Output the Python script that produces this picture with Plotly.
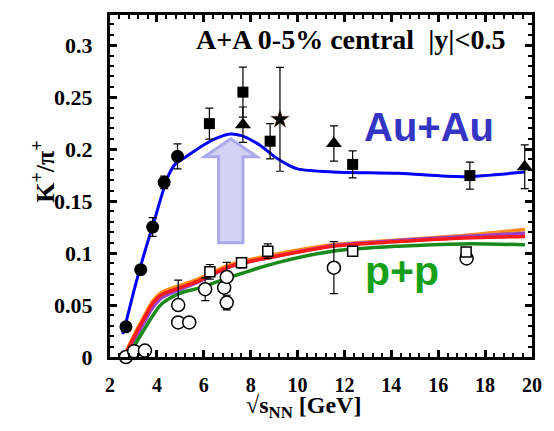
import plotly.graph_objects as go

# ---------------- data ----------------
# Au+Au model curve (blue)
auau_curve_x = [2.54, 2.7, 3.0, 3.3, 3.6, 3.9, 4.2, 4.5, 4.8, 5.2, 6.0, 6.6, 7.15, 7.6, 8.0, 8.5, 9.0, 9.5, 10.0, 11.5, 14.3, 17.1, 19.7]
auau_curve_y = [0.022, 0.035, 0.062, 0.087, 0.110, 0.132, 0.155, 0.175, 0.186, 0.192, 0.204, 0.211, 0.2145, 0.213, 0.209, 0.202, 0.193, 0.186, 0.181, 0.178, 0.1767, 0.1735, 0.178]

# p+p model curves
pp_x = [2.6, 3.0, 3.5, 3.8, 4.2, 5.0, 5.75, 7.15, 9.1, 11.5, 14.3, 17.1, 19.7]
pp_orange = [0.001, 0.020, 0.041, 0.053, 0.062, 0.069, 0.075, 0.089, 0.099, 0.108, 0.1126, 0.117, 0.1226]
pp_purple = [0.0, 0.015, 0.035, 0.047, 0.057, 0.065, 0.072, 0.087, 0.097, 0.107, 0.112, 0.116, 0.119]
pp_red = [0.0, 0.018, 0.039, 0.051, 0.060, 0.0667, 0.073, 0.0875, 0.097, 0.1066, 0.111, 0.1145, 0.116]
pp_green_x = [2.8, 3.0, 3.5, 3.8, 4.2, 5.0, 5.75, 7.15, 9.1, 11.5, 14.3, 17.1, 19.7]
pp_green = [0.003, 0.0096, 0.028, 0.039, 0.051, 0.0615, 0.066, 0.077, 0.0906, 0.1018, 0.1066, 0.1088, 0.108]

# Au+Au data
circ_x = [2.68, 3.31, 3.82, 4.31, 4.88]
circ_y = [0.029, 0.084, 0.125, 0.168, 0.193]
circ_e = [0.003, 0.004, 0.009, 0.006, 0.012]

sq_x = [6.24, 7.67, 8.83, 12.35, 17.35]
sq_y = [0.2245, 0.2548, 0.2076, 0.1853, 0.1745]
sq_e = [0.015, 0.024, 0.017, 0.013, 0.013]

tri_x = [7.67, 11.55, 19.69]
tri_y = [0.2235, 0.2054, 0.183]
tri_e = [0.017, 0.017, 0.021]

star_x = [9.25]
star_y = [0.2287]
star_e = [0.05]

# p+p data
oc_x = [2.68, 3.03, 3.49, 4.91, 4.91, 5.38, 6.06, 6.87, 6.98, 6.98, 11.55, 17.21]
oc_y = [0.0, 0.0056, 0.0062, 0.050, 0.0333, 0.0333, 0.0652, 0.0667, 0.077, 0.0524, 0.0859, 0.0948]
oc_ep = [0, 0, 0, 0.024, 0, 0, 0.011, 0, 0.014, 0.007, 0.025, 0]
oc_em = [0, 0, 0, 0, 0, 0, 0.011, 0, 0, 0.007, 0.025, 0]

os_x = [6.26, 7.61, 8.73, 12.35, 17.19]
os_y = [0.082, 0.0907, 0.1018, 0.1018, 0.101]
os_e = [0.007, 0.005, 0.007, 0.003, 0.004]

# arrow geometry (data units)
arrow_x = [6.63, 7.67, 7.67, 8.27, 7.15, 6.03, 6.63]
arrow_y = [0.1098, 0.1098, 0.1926, 0.1926, 0.210, 0.1926, 0.1926]

x_ticks = [2, 4, 6, 8, 10, 12, 14, 16, 18, 20]
y_ticks = [0, 0.05, 0.1, 0.15, 0.2, 0.25, 0.3]

SERIF = "Liberation Serif, Times New Roman, serif"
SANS = "Liberation Sans, Arial, sans-serif"

fig = go.Figure()

# p+p curves
for xs, ys, col in [(pp_x, pp_orange, "#ff8c1a"), (pp_x, pp_purple, "#9b3fc8"),
                    (pp_x, pp_red, "#ff1a1a"), (pp_green_x, pp_green, "#1a8a1a")]:
    fig.add_trace(go.Scatter(x=xs, y=ys, mode="lines", line=dict(color=col, width=3.5, shape="spline", smoothing=0.8),
                             hoverinfo="skip", showlegend=False))

# Au+Au curve
fig.add_trace(go.Scatter(x=auau_curve_x, y=auau_curve_y, mode="lines",
                         line=dict(color="#0000ff", width=3, shape="spline", smoothing=0.8), showlegend=False))

eb = dict(type="data", color="black", thickness=1.2, width=4)

fig.add_trace(go.Scatter(x=oc_x, y=oc_y, mode="markers", cliponaxis=False,
                         marker=dict(symbol="circle", size=13, color="white", line=dict(color="black", width=1.5)),
                         error_y=dict(eb, array=oc_ep, arrayminus=oc_em, symmetric=False), showlegend=False))
fig.add_trace(go.Scatter(x=os_x, y=os_y, mode="markers",
                         marker=dict(symbol="square", size=10, color="white", line=dict(color="black", width=1.5)),
                         error_y=dict(eb, array=os_e), showlegend=False))
fig.add_trace(go.Scatter(x=circ_x, y=circ_y, mode="markers",
                         marker=dict(symbol="circle", size=13, color="black"),
                         error_y=dict(eb, array=circ_e), showlegend=False))
fig.add_trace(go.Scatter(x=sq_x, y=sq_y, mode="markers",
                         marker=dict(symbol="square", size=11, color="black"),
                         error_y=dict(eb, array=sq_e), showlegend=False))
fig.add_trace(go.Scatter(x=tri_x, y=tri_y, mode="markers",
                         marker=dict(symbol="triangle-up", size=14, color="black"),
                         error_y=dict(eb, array=tri_e), showlegend=False))
fig.add_trace(go.Scatter(x=star_x, y=star_y, mode="markers",
                         marker=dict(symbol="star", size=14, color="black", line=dict(color="#8a5010", width=0.4)),
                         error_y=dict(eb, array=star_e), showlegend=False))

# arrow
path = "M " + " L ".join(f"{x},{y}" for x, y in zip(arrow_x, arrow_y)) + " Z"
fig.add_shape(type="path", path=path, xref="x", yref="y", layer="below",
              fillcolor="rgb(210,210,245)", line=dict(color="rgb(170,170,232)", width=3))

axis_common = dict(showline=True, linewidth=3, linecolor="black", mirror="allticks",
                   ticks="inside", ticklen=7, tickwidth=2.5, tickcolor="black",
                   showgrid=False, zeroline=False)

fig.update_xaxes(range=[2, 20], tickvals=x_ticks, ticklabelstandoff=8,
                 tickfont=dict(family=SERIF, size=20, color="black", weight="bold"),
                 minor=dict(dtick=0.4, ticks="inside", ticklen=4, tickwidth=2, tickcolor="black", showgrid=False),
                 **axis_common)
fig.update_yaxes(range=[0, 0.329], tickvals=y_ticks, ticktext=[str(v) for v in y_ticks], ticklabelstandoff=10,
                 tickfont=dict(family=SERIF, size=22, color="black", weight="bold"),
                 minor=dict(dtick=0.01, ticks="inside", ticklen=4, tickwidth=2, tickcolor="black", showgrid=False),
                 **axis_common)

fig.add_annotation(x=12.25, y=0.305, xref="x", yref="y", text="A+A 0-5% central  |y|<0.5",
                   showarrow=False, font=dict(family=SERIF, size=28, color="black", weight="bold"))
fig.add_annotation(x=15.6, y=0.221, xref="x", yref="y", text="Au+Au",
                   showarrow=False, font=dict(family=SANS, size=40, color="#3535c5", weight="bold"))
fig.add_annotation(x=14.45, y=0.0827, xref="x", yref="y", text="p+p",
                   showarrow=False, font=dict(family=SANS, size=41, color="#15a015", weight="bold"))
fig.add_annotation(x=0.459, y=0, xref="paper", yref="paper", yanchor="top", yshift=-33,
                   text="√s<sub>NN</sub> [GeV]",
                   showarrow=False, font=dict(family=SERIF, size=24, color="black", weight="bold"))
fig.add_annotation(x=-0.2, y=0.542, xref="paper", yref="paper", text="K<sup>+</sup>/π<sup>+</sup>",
                   textangle=-90, showarrow=False, font=dict(family=SERIF, size=26, color="black", weight="bold"))

fig.update_layout(width=554, height=431, margin=dict(l=110, r=14, t=12, b=74),
                  paper_bgcolor="white", plot_bgcolor="white", showlegend=False)

fig.write_html("out.html")
